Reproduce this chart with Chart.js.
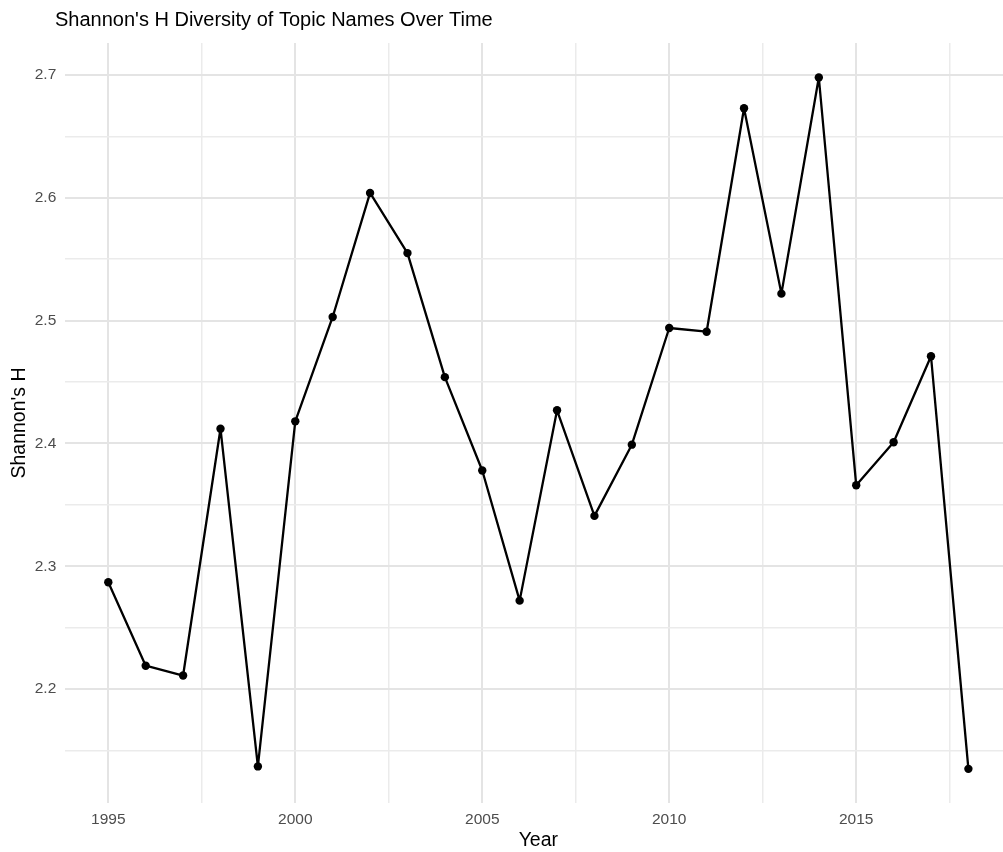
<!DOCTYPE html>
<html>
<head>
<meta charset="utf-8">
<script src="https://cdn.jsdelivr.net/npm/chart.js@4.4.0/dist/chart.umd.min.js"></script>
<style>
  html, body { margin: 0; padding: 0; background: #ffffff; overflow: hidden; }
  #wrap { position: absolute; left: 0; top: 0; width: 1020px; height: 852px; }
</style>
</head>
<body>
<div id="wrap"><canvas id="c"></canvas></div>
<script>
const chartTitle = "Shannon's H Diversity of Topic Names Over Time";
const xAxisTitle = "Year";
const yAxisTitle = "Shannon's H";

const years = [1995, 1996, 1997, 1998, 1999, 2000, 2001, 2002, 2003, 2004, 2005, 2006,
               2007, 2008, 2009, 2010, 2011, 2012, 2013, 2014, 2015, 2016, 2017, 2018];
const shannonH = [2.287, 2.219, 2.211, 2.412, 2.137, 2.418, 2.503, 2.604, 2.555, 2.454, 2.378, 2.272,
                  2.427, 2.341, 2.399, 2.494, 2.491, 2.673, 2.522, 2.698, 2.366, 2.401, 2.471, 2.135];

const xMajorTicks = [1995, 2000, 2005, 2010, 2015];
const xMinorTicks = [1997.5, 2002.5, 2007.5, 2012.5, 2017.5];
const yMajorTicks = [2.2, 2.3, 2.4, 2.5, 2.6, 2.7];
const yMinorTicks = [2.15, 2.25, 2.35, 2.45, 2.55, 2.65];

const FONT = "'Liberation Sans', Arial, Helvetica, sans-serif";
const isMajor = (list, v) => list.some(m => Math.abs(m - v) < 1e-6);

const points = years.map((y, i) => ({ x: y, y: shannonH[i] }));

const titlePlugin = {
  id: 'plotTitle',
  afterDraw(chart) {
    const ctx = chart.ctx;
    ctx.save();
    ctx.font = "20px " + FONT;
    ctx.fillStyle = '#000000';
    ctx.textAlign = 'left';
    ctx.textBaseline = 'alphabetic';
    ctx.fillText(chartTitle, 55, 26);
    ctx.restore();
  }
};

new Chart(document.getElementById('c'), {
  type: 'line',
  data: {
    datasets: [{
      data: points,
      borderColor: '#000000',
      backgroundColor: '#000000',
      borderWidth: 2.3,
      borderJoinStyle: 'round',
      borderCapStyle: 'round',
      pointRadius: 4.2,
      pointHoverRadius: 4.2,
      pointBackgroundColor: '#000000',
      pointBorderWidth: 0,
      tension: 0,
      fill: false
    }]
  },
  options: {
    responsive: true,
    maintainAspectRatio: false,
    animation: false,
    events: [],
    layout: { padding: { top: 43, left: 0, right: 8.6, bottom: 0 } },
    plugins: {
      legend: { display: false },
      title: { display: false },
      tooltip: { enabled: false }
    },
    scales: {
      x: {
        type: 'linear',
        min: 1993.85,
        max: 2019.15,
        afterBuildTicks(scale) {
          scale.ticks = xMajorTicks.concat(xMinorTicks).sort((a, b) => a - b).map(v => ({ value: v }));
        },
        afterFit(scale) { scale.height = 49; },
        border: { display: false },
        grid: {
          drawTicks: false,
          color: ctx => isMajor(xMajorTicks, ctx.tick.value) ? '#e4e4e4' : '#ebebeb',
          lineWidth: ctx => isMajor(xMajorTicks, ctx.tick.value) ? 2 : 1.5
        },
        ticks: {
          padding: 7,
          maxRotation: 0,
          autoSkip: false,
          color: '#4d4d4d',
          font: { family: FONT, size: 15.5 },
          callback: v => isMajor(xMajorTicks, v) ? String(v) : ''
        },
        title: {
          display: true,
          text: xAxisTitle,
          color: '#000000',
          font: { family: FONT, size: 19.5 },
          padding: { top: 0, bottom: 0 }
        }
      },
      y: {
        type: 'linear',
        min: 2.1072,
        max: 2.7261,
        afterBuildTicks(scale) {
          scale.ticks = yMajorTicks.concat(yMinorTicks).sort((a, b) => a - b).map(v => ({ value: v }));
        },
        afterFit(scale) { scale.width = 65.3; },
        border: { display: false },
        grid: {
          drawTicks: false,
          color: ctx => isMajor(yMajorTicks, ctx.tick.value) ? '#e4e4e4' : '#ebebeb',
          lineWidth: ctx => isMajor(yMajorTicks, ctx.tick.value) ? 2 : 1.5
        },
        ticks: {
          padding: 9,
          autoSkip: false,
          color: '#4d4d4d',
          font: { family: FONT, size: 15.5 },
          callback: v => isMajor(yMajorTicks, v) ? v.toFixed(1) : ''
        },
        title: {
          display: true,
          text: yAxisTitle,
          color: '#000000',
          font: { family: FONT, size: 19.5 },
          padding: { top: 7.6, bottom: 0 }
        }
      }
    }
  },
  plugins: [titlePlugin]
});
</script>
</body>
</html>
